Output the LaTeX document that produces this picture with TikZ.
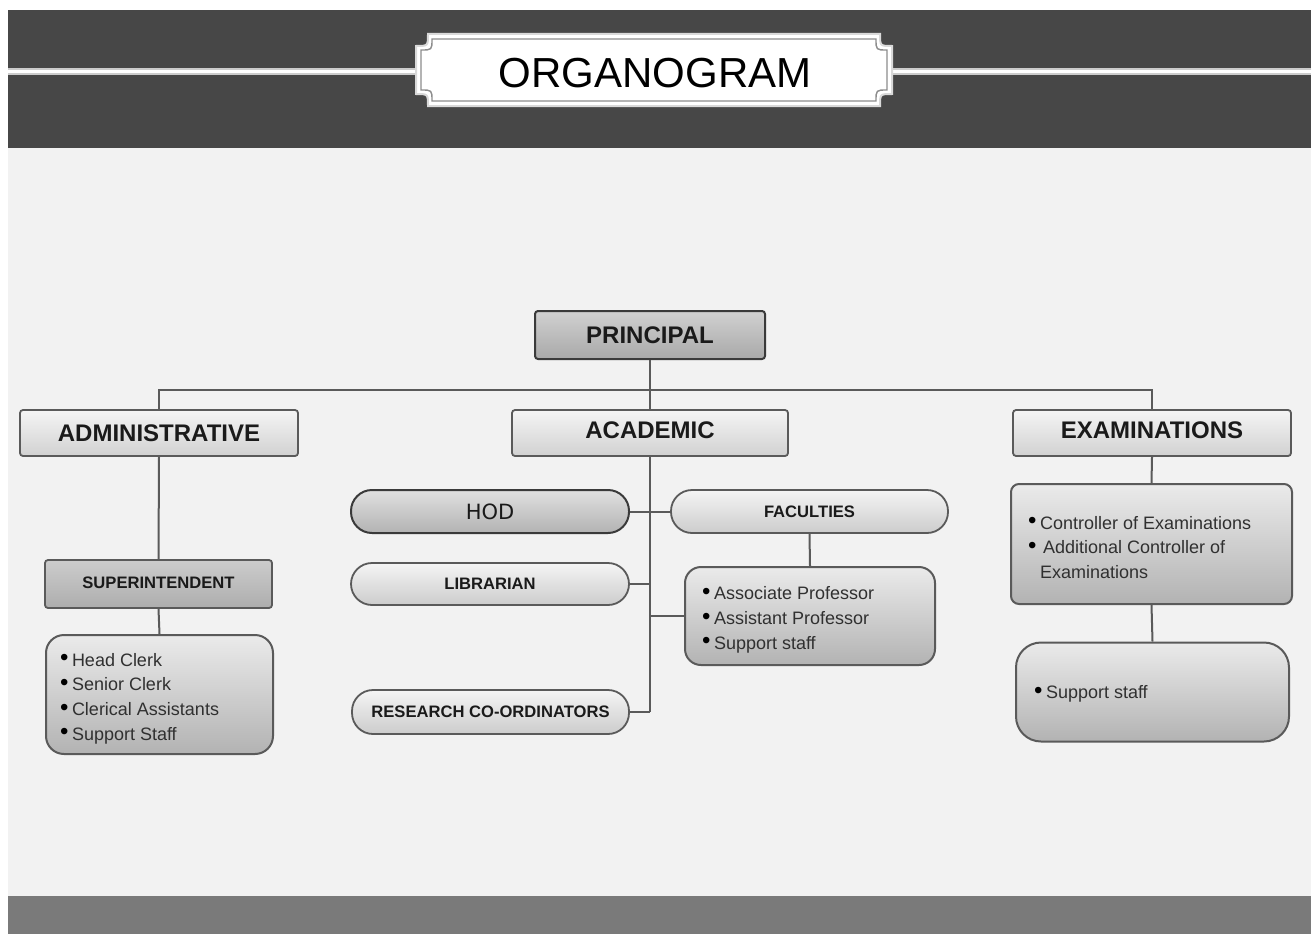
\documentclass[tikz,border=0pt]{standalone}
\usepackage{fontspec}
\setmainfont{Liberation Sans}
\newfontfamily\hodfont{DejaVu Sans}
\usetikzlibrary{calc}
\definecolor{band}{HTML}{474747}
\definecolor{bg}{HTML}{F2F2F2}
\definecolor{foot}{HTML}{7A7A7A}
\definecolor{txt}{HTML}{1A1A1A}
\definecolor{listtxt}{HTML}{303030}
\definecolor{edge}{HTML}{5A5A5A}
\definecolor{darkedge}{HTML}{3A3A3A}
\newcommand\bul{\makebox[12pt][l]{\raisebox{0.5pt}{\fontsize{24}{24}\selectfont\color{black}•}}}
\newcommand\lst[3]{\raisebox{#2}[\height][\depth]{\parbox{#1}{\raggedright #3}}}
\begin{document}
\begin{tikzpicture}[x=1pt,y=-1pt,
  lightbox/.style={draw=edge, line width=1.8pt, rounded corners=3pt, top color=white!96!black, bottom color=white!82!black, inner sep=0pt, text=txt, font=\bfseries\fontsize{24}{26}\selectfont},
  darkbox/.style={draw=darkedge, line width=2pt, rounded corners=3pt, top color=white!82!black, bottom color=white!66!black, inner sep=0pt, text=txt, font=\bfseries\fontsize{24}{26}\selectfont},
  midbox/.style={draw=edge, line width=1.8pt, rounded corners=3pt, top color=white!80!black, bottom color=white!68!black, inner sep=0pt, text=txt, font=\bfseries\fontsize{16.6}{18}\selectfont},
  pill/.style={draw=edge, line width=1.8pt, top color=white!96!black, bottom color=white!80!black, inner sep=0pt, text=txt, rounded corners=21pt, font=\bfseries\fontsize{16.6}{18}\selectfont},
  darkpill/.style={draw=darkedge, line width=2pt, top color=white!88!black, bottom color=white!70!black, inner sep=0pt, text=txt, rounded corners=21pt},
  listbox/.style={draw=edge, line width=2pt, top color=white!92!black, bottom color=white!70!black, inner sep=0pt, text=listtxt, font=\fontsize{18}{24.7}\selectfont},
  link/.style={draw=edge, line width=2pt}
]
\useasboundingbox (0,0) rectangle (1311,934);
\fill[white] (0,0) rectangle (1311,934);
\fill[band] (8,10) rectangle (1311,148);
\fill[bg] (8,148) rectangle (1311,896);
\fill[foot] (8,896) rectangle (1311,934);
\draw[white!80!black, line width=6pt] (8,71.5) -- (1311,71.5);
\draw[white, line width=3pt] (8,71.5) -- (1311,71.5);
% title plaque
\def\pl#1#2#3#4#5{(#1+#5,#2) -- (#3-#5,#2) .. controls (#3-#5,#2+#5) .. (#3,#2+#5) -- (#3,#4-#5) .. controls (#3-#5,#4-#5) .. (#3-#5,#4) -- (#1+#5,#4) .. controls (#1+#5,#4-#5) .. (#1,#4-#5) -- (#1,#2+#5) .. controls (#1+#5,#2+#5) .. (#1+#5,#2) -- cycle}
\filldraw[fill=white, draw=white!85!black, line width=2pt] \pl{416}{34}{892}{106}{12};
\draw[white!55!black, line width=1.4pt] \pl{421}{39}{887}{101}{11};
\node[font=\fontsize{42}{44}\selectfont, text=black] (title) at (655,73) {ORGANOGRAM};

% nodes
\node[darkbox, minimum width=230pt, minimum height=48pt] (principal) at (650,335) {PRINCIPAL};
\node[lightbox, minimum width=278pt, minimum height=46pt] (admin) at (159,433) {ADMINISTRATIVE};
\node[lightbox, minimum width=276pt, minimum height=46pt] (academic) at (650,433) {\raisebox{6pt}{ACADEMIC}};
\node[lightbox, minimum width=278pt, minimum height=46pt] (exams) at (1152,433) {\raisebox{6pt}{EXAMINATIONS}};
\node[midbox, minimum width=227pt, minimum height=48pt] (super) at (158.5,584) {\raisebox{3pt}{SUPERINTENDENT}};
\node[listbox, rounded corners=18pt, minimum width=227pt, minimum height=119pt] (adminlist) at (159.5,694.5)
  {\lst{199pt}{-4pt}{\bul Head Clerk\\ \bul Senior Clerk\\ \bul Clerical Assistants\\ \bul Support Staff}};

\node[darkpill, minimum width=278pt, minimum height=43pt, font=\hodfont\fontsize{21}{23}\selectfont] (hod) at (490,511.5) {HOD};
\node[pill, minimum width=277pt, minimum height=43pt] (faculties) at (809.5,511.5) {FACULTIES};
\node[pill, minimum width=278pt, minimum height=42pt] (librarian) at (490,584) {LIBRARIAN};
\node[pill, minimum width=277pt, minimum height=44pt] (research) at (490.5,712) {RESEARCH CO-ORDINATORS};
\node[listbox, rounded corners=16pt, minimum width=250pt, minimum height=98pt] (faclist) at (810,616)
  {\lst{216pt}{-4pt}{\bul Associate Professor\\ \bul Assistant Professor\\ \bul Support staff}};

\node[listbox, rounded corners=8pt, minimum width=281pt, minimum height=120pt] (examlist) at (1151.5,544)
  {\lst{247pt}{-3.5pt}{\bul Controller of Examinations\\ \bul\,Additional Controller of\\ \hspace*{12pt}Examinations}};
\node[listbox, rounded corners=25pt, minimum width=273pt, minimum height=99pt] (examsupport) at (1152.5,692)
  {\lst{237pt}{-2pt}{\bul Support staff}};

% connectors
\coordinate (bus) at (650,390);
\coordinate (spinebot) at (650,712);
\draw[link] (principal.south) -- (academic.north);
\draw[link] (admin.north) -- (admin.north |- bus) -- (exams.north |- bus) -- (exams.north);
\draw[link] (admin.south) -- (super.north);
\draw[link] (super.south) -- (adminlist.north);
\draw[link] (academic.south) -- (spinebot);
\draw[link] (hod.east) -- (faculties.west);
\draw[link] (librarian.east) -- (librarian.east -| spinebot);
\draw[link] (research.east) -- (spinebot);
\draw[link] (faclist.west) -- (faclist.west -| spinebot);
\draw[link] (faculties.south) -- (faclist.north);
\draw[link] (exams.south) -- (examlist.north);
\draw[link] (examlist.south) -- (examsupport.north);
\end{tikzpicture}
\end{document}
